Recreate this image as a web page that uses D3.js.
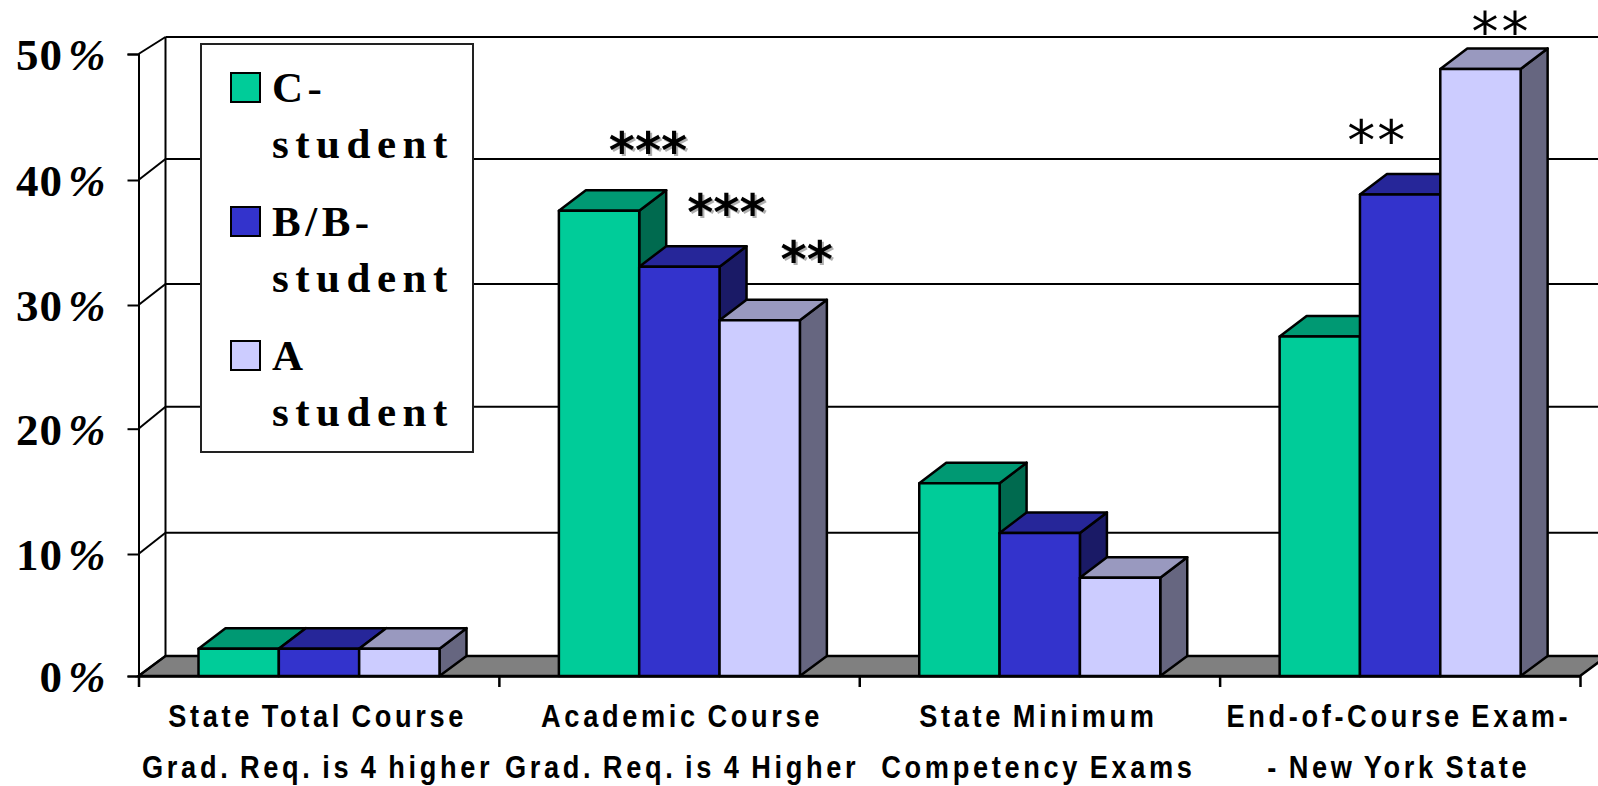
<!DOCTYPE html>
<html>
<head>
<meta charset="utf-8">
<script src="https://cdn.jsdelivr.net/npm/d3@7"></script>
<style>
    html, body { margin: 0; padding: 0; background: #fff; overflow: hidden; }
    svg { display: block; }
    .yLabel { font-family: "Liberation Serif", serif; font-weight: bold; font-size: 45px; fill: #000; }
    .catLabel { font-family: "Liberation Sans", Arial, sans-serif; font-weight: bold; font-size: 32px; letter-spacing: 4.3px; word-spacing: -3px; fill: #000; text-anchor: middle; }
    .legendLabel { font-family: "Liberation Serif", serif; font-weight: bold; font-size: 43px; fill: #000; }
    .stars { fill: #000; text-anchor: middle; }
</style>
</head>
<body>
<script>
let categories = ["State Total Course|Grad. Req. is 4 higher",
    "Academic Course|Grad. Req. is 4 Higher",
    "State Minimum|Competency Exams",
    "End-of-Course Exam-|- New York State"];
let seriesNames = ["C-|student", "B/B-|student", "A|student"];
let cStudent = [2.2, 37.4, 15.5, 27.3];
let bStudent = [2.2, 32.9, 11.5, 38.7];
let aStudent = [2.2, 28.6, 7.9, 48.8];
let yTicks = [0, 10, 20, 30, 40, 50];
let starMarks = ["", "***|***|**", "", "|**|**"];

let seriesValues = [cStudent, bStudent, aStudent];
let frontColors = ["#00cc99", "#3333cc", "#ccccff"];
let topColors = ["#009973", "#262699", "#9999bf"];
let sideColors = ["#006a4f", "#1a1a66", "#666680"];

let svgWidth = 1598,
    svgHeight = 786,
    axisLeft = 138.5,
    axisRight = 1580,
    baseY = 676,
    topY = 54,
    depthX = 27,
    depthY = 20.5;

let svg = d3.select("body").append("svg")
    .attr("width", svgWidth)
    .attr("height", svgHeight);

let yScale = d3.scaleLinear().domain([0, 50]).range([baseY, topY]);
// ticks and wall lines sit on slightly uneven pixels in the reference
let tickScale = d3.scaleLinear().domain(yTicks).range([baseY, 554, 428.7, 305, 180, topY]);
let backScale = d3.scaleLinear().domain(yTicks).range([656, 532.7, 406.7, 284, 159, 37]);
let xBand = d3.scaleBand().domain(categories).range([axisLeft, axisRight]);
let barBand = d3.scaleBand().domain(seriesNames).range([60, 301]);
let xTicks = d3.scaleLinear().domain([0, categories.length]).range([axisLeft, axisRight]);

drawWalls();
drawAxes();
categories.forEach((c, g) => seriesNames.forEach((s, i) => drawBar(c, s, seriesValues[i][g], i)));
drawCategoryLabels();
drawLegend();
drawStars();

function line(x1, y1, x2, y2, width) {
    svg.append("line")
        .attr("x1", x1).attr("y1", y1).attr("x2", x2).attr("y2", y2)
        .attr("stroke", "#000")
        .attr("stroke-width", width || 2);
}

function drawWalls() {
    // floor runs off the right edge of the picture
    svg.append("polygon")
        .attr("points", [[axisLeft, baseY], [axisLeft + depthX, backScale(0)],
            [axisRight + depthX, backScale(0)], [axisRight, baseY]].join(" "))
        .attr("fill", "#808080")
        .attr("stroke", "#000")
        .attr("stroke-width", 2.5);

    yTicks.forEach(t => {
        line(axisLeft, tickScale(t), axisLeft + depthX, backScale(t));
        line(axisLeft + depthX, backScale(t), svgWidth, backScale(t));
    });
    line(axisLeft + depthX, backScale(50), axisLeft + depthX, backScale(0));
}

function drawAxes() {
    let yAxis = d3.axisLeft(tickScale)
        .tickValues(yTicks)
        .tickSize(11)
        .tickPadding(22)
        .tickFormat(d => d);

    let gy = svg.append("g")
        .attr("transform", "translate(" + axisLeft + ",0)")
        .call(yAxis);
    gy.selectAll("path, line").attr("stroke", "#000").attr("stroke-width", 2);
    gy.selectAll("text")
        .attr("class", "yLabel")
        .attr("font-family", null)
        .attr("font-size", null)
        .attr("dy", "0.34em")
        .each(function(d) {
            let t = d3.select(this).text(null);
            t.append("tspan").attr("letter-spacing", 1).text(d);
            t.append("tspan").attr("dx", 5).attr("font-style", "italic").text("%");
        });

    let xAxis = d3.axisBottom(xTicks)
        .tickValues(d3.range(categories.length + 1))
        .tickSize(11)
        .tickSizeOuter(0)
        .tickFormat("");
    let gx = svg.append("g")
        .attr("transform", "translate(0," + baseY + ")")
        .call(xAxis);
    gx.selectAll("path, line").attr("stroke", "#000").attr("stroke-width", 2.5);
}

function drawBar(category, series, value, i) {
    let x0 = xBand(category) + barBand(series),
        x1 = x0 + barBand.bandwidth(),
        y0 = yScale(value),
        g = svg.append("g")
            .attr("stroke", "#000")
            .attr("stroke-width", 2.5)
            .attr("stroke-linejoin", "round");

    g.append("polygon")
        .attr("points", [[x1, y0], [x1 + depthX, y0 - depthY], [x1 + depthX, backScale(0)], [x1, baseY]].join(" "))
        .attr("fill", sideColors[i]);
    g.append("polygon")
        .attr("points", [[x0, y0], [x0 + depthX, y0 - depthY], [x1 + depthX, y0 - depthY], [x1, y0]].join(" "))
        .attr("fill", topColors[i]);
    g.append("rect")
        .attr("x", x0)
        .attr("y", y0)
        .attr("width", x1 - x0)
        .attr("height", baseY - y0)
        .attr("fill", frontColors[i]);
}

function drawCategoryLabels() {
    categories.forEach((c, g) => {
        let x = xBand(c) + xBand.bandwidth() / 2 + (g == 1 ? 3 : -1);
        c.split("|").forEach((part, n) => {
            // reference type is a condensed Arial, so squeeze it sideways
            svg.append("text")
                .attr("class", "catLabel")
                .attr("transform", "translate(" + x + "," + (727 + n * 51) + ") scale(0.85,1)")
                .text(part);
        });
    });
}

function drawLegend() {
    svg.append("rect")
        .attr("x", 201)
        .attr("y", 44)
        .attr("width", 272)
        .attr("height", 408)
        .attr("fill", "#fff")
        .attr("stroke", "#222")
        .attr("stroke-width", 2);

    seriesNames.forEach((s, i) => {
        let rowY = 73 + i * 134;
        svg.append("rect")
            .attr("x", 231)
            .attr("y", rowY)
            .attr("width", 29)
            .attr("height", 29)
            .attr("fill", frontColors[i])
            .attr("stroke", "#000")
            .attr("stroke-width", 2);
        s.split("|").forEach((part, n) => {
            svg.append("text")
                .attr("class", "legendLabel")
                .attr("x", 272)
                .attr("y", rowY + 29 + n * 56)
                .attr("letter-spacing", n ? 6.5 : 4.5)
                .text(part);
        });
    });
}

function drawStars() {
    // offsets from the top centre of the bar each mark belongs to
    let offsets = {
        "1-0": {dx: 49, dy: -43, size: 50, gap: 0, weight: "bold", shadow: true},
        "1-1": {dx: 47, dy: -37, size: 50, gap: 0, weight: "bold", shadow: true},
        "1-2": {dx: 47, dy: -43, size: 50, gap: 0, weight: "bold", shadow: true},
        "3-1": {dx: -23, dy: -35, size: 56, gap: 2, weight: "normal", shadow: false},
        "3-2": {dx: 21, dy: -19, size: 54, gap: 3, weight: "normal", shadow: false}
    };
    starMarks.forEach((m, g) => {
        m.split("|").forEach((text, i) => {
            if (!text) return;
            let o = offsets[g + "-" + i],
                name = seriesNames[i],
                x = xBand(categories[g]) + barBand(name) + barBand.bandwidth() / 2 + o.dx,
                y = yScale(seriesValues[i][g]) + o.dy;
            let t = svg.append("text")
                .attr("class", "stars")
                .attr("x", x)
                .attr("y", y)
                .attr("font-family", "'DejaVu Sans', sans-serif")
                .attr("font-weight", o.weight)
                .attr("font-size", o.size)
                .attr("letter-spacing", o.gap)
                .text(text);
            if (o.shadow) t.style("filter", "drop-shadow(2px 2px 0 #b0b0b0)");
        });
    });
}
</script>
</body>
</html>
